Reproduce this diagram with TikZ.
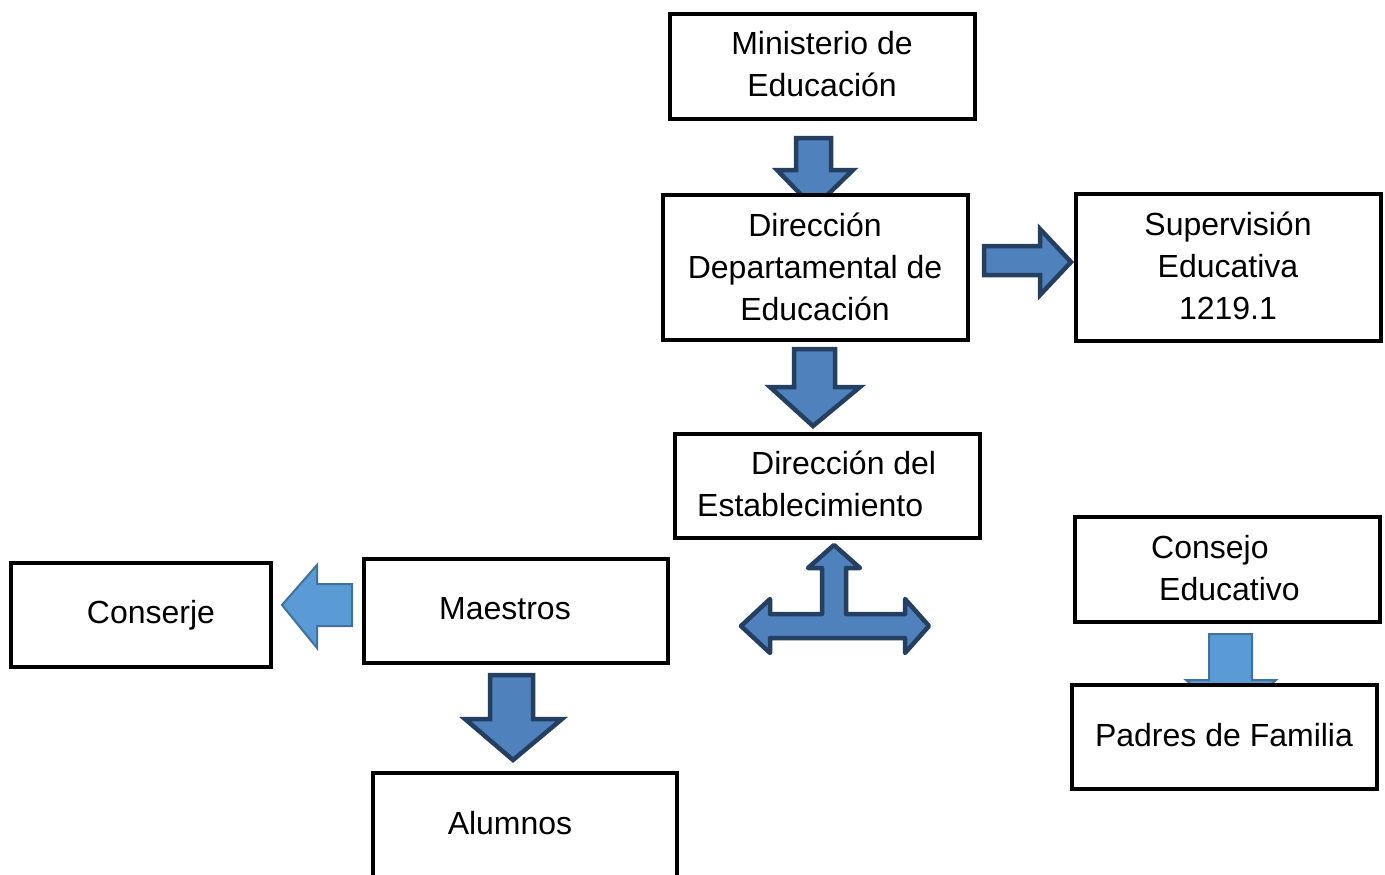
\documentclass[tikz,border=0pt]{standalone}
\usepackage{fontspec}
\setmainfont{Liberation Sans}
\definecolor{darkfill}{HTML}{4F81BD}
\definecolor{darkline}{HTML}{243F60}
\definecolor{lightfill}{HTML}{5B9BD5}
\definecolor{lightline}{HTML}{41719C}
\begin{document}
\begin{tikzpicture}[x=1pt,y=-1pt,
  box/.style={draw=black, line width=4.5pt, fill=white, inner sep=0pt, minimum width=305pt},
  txt/.style={font=\fontsize{32}{42}\selectfont, align=center, inner sep=0pt},
  darrow/.style={fill=darkfill, draw=darkline, line width=4.5pt, line join=miter},
  tarrow/.style={fill=darkfill, draw=darkline, line width=4.5pt, line join=round},
  larrow/.style={fill=lightfill, draw=lightline, line width=2pt, line join=miter}]
\useasboundingbox (0,0) rectangle (1385,875);
\clip (0,0) rectangle (1385,875);
\fill[white] (0,0) rectangle (1385,875);

% block arrows (drawn first so the boxes cover their ends)
\draw[darrow] (796,138) -- (831,138) -- (831,170) -- (853,170) -- (814,208) -- (777,170) -- (796,170) -- cycle;
\draw[darrow] (984,246) -- (1040,246) -- (1040,229) -- (1071,262) -- (1040,295) -- (1040,275) -- (984,275) -- cycle;
\draw[darrow] (794,349) -- (835,349) -- (835,387) -- (860,387) -- (813,426) -- (770,387) -- (794,387) -- cycle;
\draw[tarrow] (834,545) -- (860,568) -- (846,568) -- (846,614) -- (905,614) -- (905,599) -- (929,626)
   -- (905,653) -- (905,638) -- (770,638) -- (770,653) -- (741,626) -- (770,599) -- (770,614)
   -- (822,614) -- (822,568) -- (808,568) -- cycle;
\draw[larrow] (282,605) -- (317,565) -- (317,584) -- (352,584) -- (352,626) -- (317,626) -- (317,648) -- cycle;
\draw[darrow] (490,675) -- (533,675) -- (533,719) -- (562,719) -- (513,760) -- (465,719) -- (490,719) -- cycle;
\draw[larrow] (1209,634) -- (1252,634) -- (1252,680) -- (1276,680) -- (1230,720) -- (1186,680) -- (1209,680) -- cycle;

% boxes
\node[box, minimum height=105pt] (min) at (822.5,66.5) {};
\node[box, minimum height=145pt] (dep) at (815.5,267.5) {};
\node[box, minimum height=147pt] (sup) at (1228.5,267.5) {};
\node[box, minimum height=104pt] (est) at (827.5,486) {};
\node[box, minimum height=105pt] (con) at (1227.5,569.5) {};
\node[box, minimum width=260pt, minimum height=104pt] (cje) at (141,615) {};
\node[box, minimum width=304pt, minimum height=104pt] (mae) at (516,611) {};
\node[box, minimum width=304pt, minimum height=130pt] (alu) at (525,838) {};
\node[box, minimum height=104pt] (pad) at (1224.5,737) {};

% texts
\node[txt] (tmin) at (822,64) {Ministerio de\\Educación};
\node[txt] (tdep) at (815,267) {Dirección\\Departamental de\\Educación};
\node[txt] (tsup) at (1228,266) {Supervisión\\Educativa\\1219.1};
\node[txt, anchor=base west] (test1) at (751,474) {Dirección del};
\node[txt, anchor=base west] (test2) at (697,516) {Establecimiento};
\node[txt, anchor=base west] (tcon1) at (1151,558) {Consejo};
\node[txt, anchor=base west] (tcon2) at (1159,600) {Educativo};
\node[txt] (tcje) at (151,615) {Conserje};
\node[txt] (tmae) at (505,609) {Maestros};
\node[txt] (talu) at (510,823) {Alumnos};
\node[txt] (tpad) at (1224,735) {Padres de Familia};
\end{tikzpicture}
\end{document}
